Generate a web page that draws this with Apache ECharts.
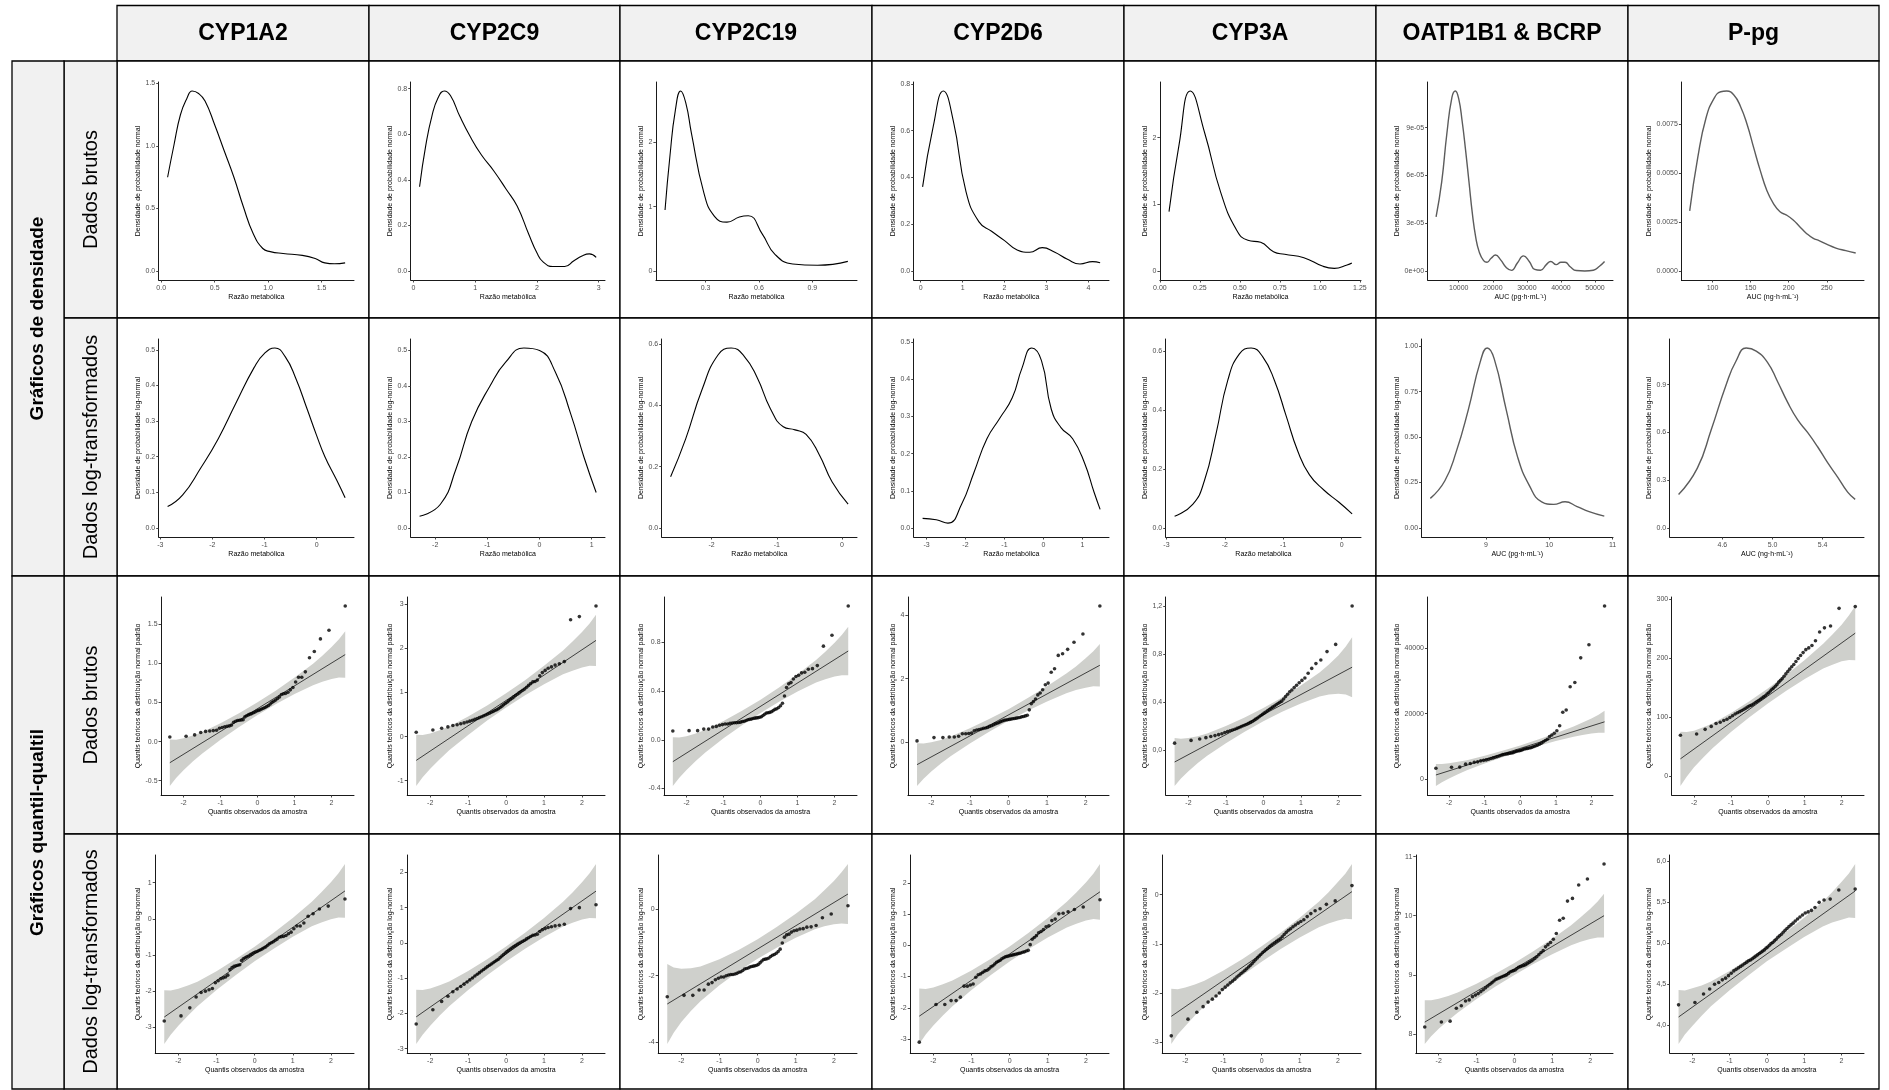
<!DOCTYPE html>
<html>
<head>
<meta charset="utf-8">
<script src="https://cdn.jsdelivr.net/npm/echarts@6/dist/echarts.min.js"></script>
<style>
  html, body { margin: 0; padding: 0; background: #ffffff; }
  #painel { width: 1889px; height: 1090px; }
</style>
</head>
<body>
<div id="painel"></div>
<script>
// ---------- textos ----------
const enzimas = ['CYP1A2', 'CYP2C9', 'CYP2C19', 'CYP2D6', 'CYP3A', 'OATP1B1 & BCRP', 'P-pg'];
const rotulosLinhas = ['Dados brutos', 'Dados log-transformados', 'Dados brutos', 'Dados log-transformados'];
const rotulosGrupos = ['Gráficos de densidade', 'Gráficos quantil-qualtil'];
const titulosY = ['Densidade de probabilidade normal', 'Densidade de probabilidade log-normal',
  'Quantis teóricos da distribuição normal padrão', 'Quantis teóricos da distribuição log-normal'];
const titulosX = ['Razão metabólica', 'Razão metabólica', 'Razão metabólica', 'Razão metabólica',
  'Razão metabólica', 'AUC (pg·h·mL⁻¹)', 'AUC (ng·h·mL⁻¹)'];
const tituloXQuantis = 'Quantis observados da amostra';

// ---------- quantis teóricos da normal (n = 56) ----------
const quantisNormais = [-2.369, -1.930, -1.699, -1.534, -1.403, -1.291, -1.195, -1.108, -1.029, -0.956,
  -0.887, -0.823, -0.761, -0.703, -0.647, -0.592, -0.540, -0.489, -0.439, -0.390, -0.342, -0.295,
  -0.248, -0.203, -0.157, -0.112, -0.067, -0.022, 0.022, 0.067, 0.112, 0.157, 0.203, 0.248, 0.295,
  0.342, 0.390, 0.439, 0.489, 0.540, 0.592, 0.647, 0.703, 0.761, 0.823, 0.887, 0.956, 1.029, 1.108,
  1.195, 1.291, 1.403, 1.534, 1.699, 1.930, 2.369];

// ---------- amostras ordenadas (escala original) ----------
const amostraCYP1A2 = [0.059, 0.068, 0.085, 0.115, 0.13, 0.135, 0.14, 0.145, 0.17, 0.18, 0.19, 0.195,
  0.2, 0.21, 0.245, 0.26, 0.268, 0.272, 0.276, 0.28, 0.315, 0.33, 0.34, 0.35, 0.357, 0.368, 0.378,
  0.39, 0.398, 0.405, 0.415, 0.425, 0.435, 0.448, 0.46, 0.48, 0.5, 0.515, 0.53, 0.55, 0.57, 0.6, 0.61,
  0.615, 0.63, 0.66, 0.69, 0.76, 0.82, 0.82, 0.89, 1.07, 1.15, 1.31, 1.42, 1.73];
const amostraCYP2C9 = [0.10, 0.15, 0.19, 0.22, 0.25, 0.27, 0.29, 0.31, 0.33, 0.35, 0.37, 0.39, 0.41,
  0.43, 0.45, 0.47, 0.49, 0.51, 0.53, 0.55, 0.57, 0.59, 0.61, 0.63, 0.66, 0.69, 0.72, 0.75, 0.78, 0.81,
  0.84, 0.87, 0.90, 0.93, 0.96, 0.99, 1.02, 1.05, 1.08, 1.12, 1.16, 1.20, 1.24, 1.25, 1.28, 1.38, 1.45,
  1.50, 1.55, 1.58, 1.62, 1.65, 1.70, 2.65, 2.72, 2.96];
const amostraCYP2C19 = [0.072, 0.075, 0.075, 0.088, 0.088, 0.105, 0.11, 0.12, 0.125, 0.13, 0.13, 0.135,
  0.138, 0.14, 0.14, 0.142, 0.145, 0.15, 0.152, 0.158, 0.165, 0.168, 0.17, 0.175, 0.178, 0.18, 0.182,
  0.185, 0.19, 0.2, 0.21, 0.22, 0.222, 0.225, 0.23, 0.24, 0.25, 0.255, 0.265, 0.28, 0.30, 0.36, 0.43,
  0.46, 0.47, 0.50, 0.52, 0.53, 0.55, 0.555, 0.58, 0.585, 0.61, 0.77, 0.86, 1.1];
const amostraCYP2D6 = [0.045, 0.15, 0.15, 0.17, 0.17, 0.19, 0.27, 0.27, 0.28, 0.29, 0.36, 0.39, 0.4,
  0.42, 0.44, 0.45, 0.47, 0.5, 0.52, 0.55, 0.58, 0.6, 0.62, 0.65, 0.67, 0.69, 0.7, 0.71, 0.72, 0.73,
  0.74, 0.75, 0.76, 0.77, 0.78, 0.8, 0.81, 0.83, 0.85, 1.02, 1.21, 1.28, 1.36, 1.49, 1.55, 1.65, 1.81,
  1.86, 2.2, 2.31, 2.73, 2.78, 2.92, 3.14, 3.4, 4.28];
const amostraCYP3A = [0.057, 0.08, 0.092, 0.103, 0.113, 0.12, 0.128, 0.136, 0.146, 0.153, 0.16, 0.167,
  0.173, 0.18, 0.188, 0.195, 0.202, 0.208, 0.215, 0.222, 0.23, 0.238, 0.247, 0.257, 0.267, 0.277,
  0.287, 0.297, 0.307, 0.317, 0.327, 0.337, 0.347, 0.357, 0.367, 0.377, 0.387, 0.397, 0.407, 0.425,
  0.445, 0.465, 0.485, 0.5, 0.52, 0.54, 0.56, 0.58, 0.6, 0.64, 0.68, 0.72, 0.75, 0.82, 0.88, 1.2];
const amostraOATP = [3350, 3650, 3700, 4600, 4800, 5200, 5300, 5600, 5750, 5900, 6100, 6300, 6500,
  6700, 6900, 7100, 7300, 7500, 7600, 7700, 7800, 7900, 8000, 8100, 8300, 8500, 8600, 8700, 8800,
  9000, 9200, 9300, 9400, 9500, 9600, 9800, 10000, 10200, 10400, 10700, 11000, 11400, 11800, 12200,
  13000, 13500, 14000, 14800, 16300, 20400, 21100, 28200, 29500, 37000, 41000, 52800];
const amostraPpg = [70, 72, 80, 85, 90, 92, 95, 97, 100, 103, 106, 108, 110, 112, 114, 116, 118, 120,
  121, 123, 125, 127, 129, 131, 133, 135, 137, 140, 142, 145, 148, 150, 153, 156, 160, 163, 166, 170,
  174, 178, 182, 186, 190, 195, 200, 205, 210, 215, 218, 222, 230, 245, 252, 255, 285, 288];

// ---------- curvas de densidade (escala original) ----------
const densBrutaCYP1A2 = [[0.06, 0.75], [0.12, 1.01], [0.18, 1.25], [0.24, 1.38], [0.29, 1.44], [0.35, 1.42],
  [0.41, 1.36], [0.5, 1.17], [0.59, 0.96], [0.68, 0.75], [0.77, 0.51], [0.86, 0.3], [0.95, 0.18],
  [1.02, 0.155], [1.14, 0.14], [1.32, 0.125], [1.44, 0.1], [1.53, 0.065], [1.62, 0.058], [1.72, 0.065]];
const densBrutaCYP2C9 = [[0.1, 0.37], [0.2, 0.55], [0.3, 0.68], [0.4, 0.76], [0.5, 0.79], [0.6, 0.77],
  [0.75, 0.68], [0.92, 0.59], [1.1, 0.51], [1.3, 0.44], [1.5, 0.36], [1.68, 0.285], [1.87, 0.16],
  [2.0, 0.08], [2.1, 0.04], [2.26, 0.02], [2.45, 0.02], [2.6, 0.045], [2.73, 0.066], [2.85, 0.075], [2.96, 0.06]];
const densBrutaCYP2C19 = [[0.072, 0.95], [0.1, 1.8], [0.13, 2.5], [0.16, 2.8], [0.19, 2.6], [0.22, 2.15],
  [0.29, 1.22], [0.35, 0.85], [0.42, 0.76], [0.49, 0.84], [0.54, 0.86], [0.62, 0.57], [0.69, 0.26],
  [0.79, 0.11], [0.93, 0.09], [1.1, 0.15]];
const densBrutaCYP2D6 = [[0.045, 0.36], [0.3, 0.62], [0.54, 0.77], [0.78, 0.64], [1.08, 0.34], [1.39, 0.21],
  [1.69, 0.17], [2.0, 0.13], [2.3, 0.09], [2.6, 0.08], [2.9, 0.1], [3.2, 0.08], [3.5, 0.05], [3.8, 0.03],
  [4.1, 0.04], [4.28, 0.035]];
const densBrutaCYP3A = [[0.057, 0.89], [0.12, 1.9], [0.19, 2.7], [0.28, 2.07], [0.38, 1.18], [0.48, 0.61],
  [0.55, 0.46], [0.63, 0.43], [0.71, 0.29], [0.78, 0.25], [0.9, 0.2], [1.02, 0.07], [1.09, 0.04],
  [1.17, 0.09], [1.2, 0.12]];
const densBrutaOATP = [[3350, 3.4e-5], [5000, 5.6e-5], [6500, 8.6e-5], [8000, 10.9e-5], [9000, 11.3e-5],
  [10000, 10.8e-5], [11000, 9.4e-5], [12000, 7.6e-5], [13000, 5.6e-5], [14000, 3.6e-5], [15000, 2.1e-5],
  [16000, 1.2e-5], [17300, 0.65e-5], [18300, 0.55e-5], [19500, 0.8e-5], [20800, 1.0e-5], [22300, 0.7e-5],
  [24000, 0.2e-5], [25500, 0.04e-5], [27200, 0.5e-5], [29000, 0.95e-5], [30700, 0.6e-5], [32300, 0.1e-5],
  [34000, 0.05e-5], [35700, 0.4e-5], [37000, 0.6e-5], [38600, 0.4e-5], [40000, 0.55e-5], [41200, 0.55e-5],
  [42800, 0.25e-5], [44500, 0.03e-5], [47000, 0.0], [49500, 0.05e-5], [51300, 0.3e-5], [52800, 0.6e-5]];
const densBrutaPpg = [[70, 0.00307], [80.6, 0.00579], [91.4, 0.0078], [102, 0.0088], [110.8, 0.00914],
  [118.6, 0.00918], [128, 0.00898], [136.7, 0.00839], [145.4, 0.00747], [154, 0.00629], [162.7, 0.00512],
  [171.3, 0.00411], [180, 0.00344], [188.6, 0.00302], [197.2, 0.00285], [205.9, 0.0026], [214.5, 0.00226],
  [223, 0.00193], [231.8, 0.00168], [240.5, 0.00154], [249, 0.00138], [262, 0.00117], [275, 0.00104],
  [288, 0.00092]];

// ---------- curvas de densidade (escala logarítmica) ----------
const densLogCYP1A2 = [[-2.86, 0.06], [-2.57, 0.093], [-2.23, 0.167], [-1.89, 0.25], [-1.55, 0.35],
  [-1.2, 0.45], [-1.0, 0.49], [-0.8, 0.505], [-0.6, 0.48], [-0.4, 0.42], [-0.18, 0.333], [0.0, 0.26],
  [0.16, 0.2], [0.39, 0.133], [0.548, 0.085]];
const densLogCYP2C9 = [[-2.3, 0.033], [-1.9, 0.067], [-1.6, 0.167], [-1.3, 0.3], [-0.95, 0.4],
  [-0.65, 0.467], [-0.3, 0.507], [0.0, 0.5], [0.3, 0.44], [0.6, 0.32], [0.85, 0.2], [1.085, 0.1]];
const densLogCYP2C19 = [[-2.63, 0.167], [-2.4, 0.29], [-2.15, 0.45], [-1.9, 0.565], [-1.7, 0.587],
  [-1.5, 0.56], [-1.3, 0.49], [-1.1, 0.39], [-0.9, 0.33], [-0.72, 0.32], [-0.55, 0.305], [-0.35, 0.24],
  [-0.15, 0.15], [0.095, 0.078]];
const densLogCYP2D6 = [[-3.1, 0.026], [-2.75, 0.022], [-2.45, 0.013], [-2.1, 0.064], [-1.78, 0.15],
  [-1.45, 0.24], [-1.12, 0.295], [-0.8, 0.35], [-0.55, 0.43], [-0.3, 0.484], [-0.05, 0.45], [0.2, 0.32],
  [0.45, 0.27], [0.75, 0.24], [1.05, 0.176], [1.3, 0.096], [1.455, 0.05]];
const densLogCYP3A = [[-2.86, 0.04], [-2.55, 0.08], [-2.35, 0.16], [-2.15, 0.32], [-1.95, 0.5], [-1.75, 0.59],
  [-1.55, 0.61], [-1.35, 0.58], [-1.15, 0.5], [-0.95, 0.38], [-0.75, 0.26], [-0.55, 0.18], [-0.3, 0.128],
  [-0.05, 0.088], [0.18, 0.048]];
const densLogOATP = [[8.12, 0.163], [8.35, 0.26], [8.53, 0.42], [8.72, 0.65], [8.91, 0.915], [9.02, 0.99],
  [9.13, 0.93], [9.32, 0.65], [9.5, 0.39], [9.69, 0.23], [9.88, 0.144], [10.07, 0.13], [10.25, 0.144],
  [10.44, 0.118], [10.63, 0.09], [10.87, 0.065]];
const densLogPpg = [[4.25, 0.21], [4.4, 0.376], [4.51, 0.615], [4.63, 0.9], [4.71, 1.05], [4.79, 1.13],
  [4.87, 1.11], [4.96, 1.04], [5.04, 0.92], [5.12, 0.79], [5.2, 0.68], [5.28, 0.6], [5.36, 0.51],
  [5.44, 0.41], [5.52, 0.32], [5.6, 0.225], [5.66, 0.18]];

// ---------- retas de referência (valor em x = -2.369 e x = 2.369) ----------
const retaBrutaCYP1A2 = [-0.27, 1.11];
const retaBrutaCYP2C9 = [-0.54, 2.18];
const retaBrutaCYP2C19 = [-0.18, 0.73];
const retaBrutaCYP2D6 = [-0.7, 2.42];
const retaBrutaCYP3A = [-0.1, 0.69];
const retaBrutaOATP = [1300, 17500];
const retaBrutaPpg = [30, 243];
const retaLogCYP1A2 = [-2.72, 0.77];
const retaLogCYP2C9 = [-2.1, 1.47];
const retaLogCYP2C19 = [-2.85, 0.45];
const retaLogCYP2D6 = [-2.27, 1.71];
const retaLogCYP3A = [-2.47, 0.06];
const retaLogOATP = [8.2, 10.0];
const retaLogPpg = [4.1, 5.64];

// ---------- faixas de confiança: meia-largura nos pontos de faixaX ----------
const faixaX = [-2.369, -2.2, -2, -1.75, -1.5, -1, -0.5, 0, 0.5, 1, 1.5, 1.75, 2, 2.2, 2.369];
const faixaBrutaCYP1A2 = [0.297, 0.244, 0.204, 0.166, 0.137, 0.105, 0.087, 0.081, 0.087, 0.105, 0.137, 0.166, 0.204, 0.244, 0.297];
const faixaBrutaCYP2C9 = [0.58, 0.48, 0.40, 0.33, 0.27, 0.21, 0.17, 0.16, 0.17, 0.21, 0.27, 0.33, 0.40, 0.48, 0.58];
const faixaBrutaCYP2C19 = [0.2, 0.166, 0.139, 0.113, 0.093, 0.071, 0.059, 0.055, 0.059, 0.071, 0.093, 0.113, 0.139, 0.166, 0.2];
const faixaBrutaCYP2D6 = [0.67, 0.55, 0.46, 0.37, 0.31, 0.24, 0.2, 0.18, 0.2, 0.24, 0.31, 0.37, 0.46, 0.55, 0.67];
const faixaBrutaCYP3A = [0.2, 0.165, 0.138, 0.112, 0.092, 0.071, 0.059, 0.055, 0.06, 0.075, 0.1, 0.125, 0.16, 0.2, 0.25];
const faixaBrutaOATP = [3360, 2760, 2300, 1880, 1550, 1180, 990, 920, 990, 1180, 1550, 1880, 2300, 2760, 3360];
const faixaBrutaPpg = [46, 38, 31, 25.6, 21, 16, 13.5, 12.6, 13.5, 16, 21, 25.6, 31, 38, 46];
const faixaLogCYP1A2 = [0.745, 0.613, 0.51, 0.416, 0.34, 0.26, 0.22, 0.2, 0.22, 0.26, 0.34, 0.416, 0.51, 0.613, 0.745];
const faixaLogCYP2C9 = [0.77, 0.634, 0.53, 0.43, 0.35, 0.27, 0.23, 0.21, 0.23, 0.27, 0.35, 0.43, 0.53, 0.634, 0.77];
const faixaLogCYP2C19 = [1.2, 0.98, 0.8, 0.64, 0.52, 0.39, 0.32, 0.29, 0.31, 0.36, 0.45, 0.54, 0.65, 0.77, 0.9];
const faixaLogCYP2D6 = [0.89, 0.73, 0.61, 0.5, 0.41, 0.31, 0.26, 0.24, 0.26, 0.31, 0.41, 0.5, 0.61, 0.73, 0.89];
const faixaLogCYP3A = [0.56, 0.46, 0.39, 0.315, 0.26, 0.2, 0.165, 0.155, 0.165, 0.2, 0.26, 0.315, 0.39, 0.46, 0.56];
const faixaLogOATP = [0.37, 0.305, 0.254, 0.207, 0.17, 0.13, 0.109, 0.102, 0.109, 0.13, 0.17, 0.207, 0.254, 0.305, 0.37];
const faixaLogPpg = [0.33, 0.27, 0.23, 0.185, 0.15, 0.117, 0.1, 0.09, 0.1, 0.117, 0.15, 0.185, 0.23, 0.27, 0.33];

// ---------- rótulos dos eixos ----------
const rotDensBrutaX = [['0.0', '0.5', '1.0', '1.5'], ['0', '1', '2', '3'], ['0.3', '0.6', '0.9'],
  ['0', '1', '2', '3', '4'], ['0.00', '0.25', '0.50', '0.75', '1.00', '1.25'],
  ['10000', '20000', '30000', '40000', '50000'], ['100', '150', '200', '250']];
const rotDensBrutaY = [['0.0', '0.5', '1.0', '1.5'], ['0.0', '0.2', '0.4', '0.6', '0.8'], ['0', '1', '2'],
  ['0.0', '0.2', '0.4', '0.6', '0.8'], ['0', '1', '2'], ['0e+00', '3e-05', '6e-05', '9e-05'],
  ['0.0000', '0.0025', '0.0050', '0.0075']];
const rotDensLogX = [['-3', '-2', '-1', '0'], ['-2', '-1', '0', '1'], ['-3', '-2', '-1', '0'],
  ['-3', '-2', '-1', '0', '1'], ['-3', '-2', '-1', '0'], ['9', '10', '11'], ['4.6', '5.0', '5.4']];
const rotDensLogY = [['0.0', '0.1', '0.2', '0.3', '0.4', '0.5'], ['0.0', '0.1', '0.2', '0.3', '0.4', '0.5'],
  ['0.0', '0.2', '0.4', '0.6'], ['0.0', '0.1', '0.2', '0.3', '0.4', '0.5'], ['0.0', '0.2', '0.4', '0.6'],
  ['0.00', '0.25', '0.50', '0.75', '1.00'], ['0.0', '0.3', '0.6', '0.9']];
const rotQQX = ['-2', '-1', '0', '1', '2'];
const rotQQBrutaY = [['-0.5', '0.0', '0.5', '1.0', '1.5'], ['-1', '0', '1', '2', '3'], ['-0.4', '0.0', '0.4', '0.8'],
  ['0', '2', '4'], ['0,0', '0,4', '0,8', '1,2'], ['0', '20000', '40000'], ['0', '100', '200', '300']];
const rotQQLogY = [['-3', '-2', '-1', '0', '1'], ['-3', '-2', '-1', '0', '1', '2'], ['-4', '-2', '0'],
  ['-3', '-2', '-1', '0', '1', '2'], ['-3', '-2', '-1', '0'], ['8', '9', '10', '11'],
  ['4,0', '4,5', '5,0', '5,5', '6,0']];

// ---------- agrupamento por coluna ----------
const amostras = [amostraCYP1A2, amostraCYP2C9, amostraCYP2C19, amostraCYP2D6, amostraCYP3A, amostraOATP, amostraPpg];
const densBrutas = [densBrutaCYP1A2, densBrutaCYP2C9, densBrutaCYP2C19, densBrutaCYP2D6, densBrutaCYP3A, densBrutaOATP, densBrutaPpg];
const densLogs = [densLogCYP1A2, densLogCYP2C9, densLogCYP2C19, densLogCYP2D6, densLogCYP3A, densLogOATP, densLogPpg];
const retasBrutas = [retaBrutaCYP1A2, retaBrutaCYP2C9, retaBrutaCYP2C19, retaBrutaCYP2D6, retaBrutaCYP3A, retaBrutaOATP, retaBrutaPpg];
const retasLog = [retaLogCYP1A2, retaLogCYP2C9, retaLogCYP2C19, retaLogCYP2D6, retaLogCYP3A, retaLogOATP, retaLogPpg];
const faixasBrutas = [faixaBrutaCYP1A2, faixaBrutaCYP2C9, faixaBrutaCYP2C19, faixaBrutaCYP2D6, faixaBrutaCYP3A, faixaBrutaOATP, faixaBrutaPpg];
const faixasLog = [faixaLogCYP1A2, faixaLogCYP2C9, faixaLogCYP2C19, faixaLogCYP2D6, faixaLogCYP3A, faixaLogOATP, faixaLogPpg];

// ---------- layout da tabela ----------
const colunasX = [117, 369, 620, 872, 1124, 1376, 1628, 1879];
const linhasY = [61, 318, 576, 834, 1089];
const topoCabecalho = 5.5;
const grupoX = [12, 64];
const FONTE = '"Liberation Sans", Arial, Helvetica, sans-serif';
const COR_FAIXA = '#cfd0cc';

const medidor = document.createElement('canvas').getContext('2d');
medidor.font = '7px ' + FONTE;
const larguraTexto = t => medidor.measureText(t).width;
const valorRotulo = r => parseFloat(r.replace(',', '.'));
const expandir = (a, b) => { const d = (b - a) * 0.05; return [a - d, b + d]; };

const grids = [], eixosX = [], eixosY = [], series = [];

function rotuloMaisProximo(valores, rotulos, v) {
  let melhor = 0, dist = Infinity;
  valores.forEach((u, i) => { const d = Math.abs(u - v); if (d < dist) { dist = d; melhor = i; } });
  return rotulos[melhor];
}

function eixo(k, ext, rotulos, nome, gap, margem) {
  const vals = [], labs = [];
  rotulos.forEach(r => { const v = valorRotulo(r); if (v >= ext[0] && v <= ext[1]) { vals.push(v); labs.push(r); } });
  return {
    type: 'value', gridIndex: k, min: ext[0], max: ext[1],
    axisLine: { show: true, onZero: false, lineStyle: { color: '#000', width: 0.9 } },
    axisTick: { show: true, length: 2.5, customValues: vals, lineStyle: { color: '#333', width: 0.9 } },
    axisLabel: {
      show: true, customValues: vals, fontSize: 7, fontFamily: FONTE, color: '#4d4d4d', margin: margem,
      formatter: v => rotuloMaisProximo(vals, labs, v)
    },
    splitLine: { show: false },
    name: nome, nameLocation: 'middle', nameGap: gap,
    nameTextStyle: { fontSize: 7, fontFamily: FONTE, color: '#000' }
  };
}

function novoPainel(lin, col, extX, extY, rotX, rotY, nomeX, nomeY) {
  const k = grids.length;
  const wMax = Math.max(...rotY.map(larguraTexto));
  const deslocEsq = 32 + wMax;
  const esq = colunasX[col] + deslocEsq;
  const dir = colunasX[col + 1] - 15;
  grids.push({ left: esq, top: linhasY[lin] + 21, width: dir - esq, height: 198 });
  eixosX.push(eixo(k, extX, rotX, nomeX, 14, 4.5));
  eixosY.push(eixo(k, extY, rotY, nomeY, deslocEsq - 25, 3.5));
  return k;
}

// ---------- painéis de densidade ----------
function painelDensidade(lin, col, curva, rotX, rotY, nomeX) {
  const xs = curva.map(p => p[0]), ys = curva.map(p => p[1]);
  const extX = expandir(Math.min(...xs), Math.max(...xs));
  const extY = expandir(0, Math.max(...ys));
  const k = novoPainel(lin, col, extX, extY, rotX, rotY, nomeX, titulosY[lin]);
  const cinza = col >= 5;
  series.push({
    type: 'line', xAxisIndex: k, yAxisIndex: k, data: curva, smooth: 0.5, showSymbol: false,
    lineStyle: { color: cinza ? '#5c5c5c' : '#000', width: cinza ? 1.4 : 1.1 }, silent: true, z: 3
  });
}

// ---------- painéis quantil-quantil ----------
function painelQQ(lin, col, valores, reta, meiaLargura, rotY) {
  const xIni = quantisNormais[0], xFim = quantisNormais[quantisNormais.length - 1];
  const retaEm = x => reta[0] + (reta[1] - reta[0]) * (x - xIni) / (xFim - xIni);
  const inf = faixaX.map((x, i) => retaEm(x) - meiaLargura[i]);
  const sup = faixaX.map((x, i) => retaEm(x) + meiaLargura[i]);
  const todos = valores.concat(inf, sup);
  const extY = expandir(Math.min(...todos), Math.max(...todos));
  const extX = expandir(xIni, xFim);
  const k = novoPainel(lin, col, extX, extY, rotQQX, rotY, tituloXQuantis, titulosY[lin]);
  // faixa de confiança: polígono entre o limite inferior e o superior
  series.push({
    type: 'custom', xAxisIndex: k, yAxisIndex: k, silent: true, z: 1,
    data: [[faixaX[0], inf[0]]],
    renderItem: (params, api) => {
      const pts = [];
      faixaX.forEach((x, i) => pts.push(api.coord([x, inf[i]])));
      for (let i = faixaX.length - 1; i >= 0; i--) pts.push(api.coord([faixaX[i], sup[i]]));
      return { type: 'polygon', shape: { points: pts }, style: { fill: COR_FAIXA, stroke: null } };
    }
  });
  series.push({
    type: 'line', xAxisIndex: k, yAxisIndex: k, data: [[xIni, reta[0]], [xFim, reta[1]]],
    showSymbol: false, lineStyle: { color: '#000', width: 0.7 }, silent: true, z: 2
  });
  series.push({
    type: 'scatter', xAxisIndex: k, yAxisIndex: k, symbolSize: 3.6,
    data: valores.map((v, i) => [quantisNormais[i], v]),
    itemStyle: { color: '#000' }, silent: true, z: 3
  });
}

for (let c = 0; c < enzimas.length; c++) {
  painelDensidade(0, c, densBrutas[c], rotDensBrutaX[c], rotDensBrutaY[c], titulosX[c]);
  painelDensidade(1, c, densLogs[c], rotDensLogX[c], rotDensLogY[c], titulosX[c]);
  painelQQ(2, c, amostras[c], retasBrutas[c], faixasBrutas[c], rotQQBrutaY[c]);
  painelQQ(3, c, amostras[c].map(Math.log), retasLog[c], faixasLog[c], rotQQLogY[c]);
}

// ---------- moldura da tabela ----------
const traco = { stroke: '#000', lineWidth: 1.3 };
const elementos = [];
for (let c = 0; c < enzimas.length; c++) {
  const x0 = colunasX[c], x1 = colunasX[c + 1];
  elementos.push({ type: 'rect', z: -5, shape: { x: x0, y: topoCabecalho, width: x1 - x0, height: linhasY[0] - topoCabecalho },
    style: Object.assign({ fill: '#f1f1f1' }, traco) });
  elementos.push({ type: 'text', z: -4, x: (x0 + x1) / 2, y: (topoCabecalho + linhasY[0]) / 2 + 0.5,
    style: { text: enzimas[c], font: 'bold 23px ' + FONTE, fill: '#000', align: 'center', verticalAlign: 'middle' } });
  for (let r = 0; r < 4; r++) {
    elementos.push({ type: 'rect', z: -5, shape: { x: x0, y: linhasY[r], width: x1 - x0, height: linhasY[r + 1] - linhasY[r] },
      style: Object.assign({ fill: '#ffffff' }, traco) });
  }
}
for (let r = 0; r < 4; r++) {
  const y0 = linhasY[r], y1 = linhasY[r + 1];
  elementos.push({ type: 'rect', z: -5, shape: { x: grupoX[1], y: y0, width: colunasX[0] - grupoX[1], height: y1 - y0 },
    style: Object.assign({ fill: '#f1f1f1' }, traco) });
  elementos.push({ type: 'text', z: -4, x: (grupoX[1] + colunasX[0]) / 2 + 0.5, y: (y0 + y1) / 2, rotation: Math.PI / 2,
    style: { text: rotulosLinhas[r], font: '20px ' + FONTE, fill: '#000', align: 'center', verticalAlign: 'middle' } });
}
for (let g = 0; g < 2; g++) {
  const y0 = linhasY[g * 2], y1 = linhasY[g * 2 + 2];
  elementos.push({ type: 'rect', z: -5, shape: { x: grupoX[0], y: y0, width: grupoX[1] - grupoX[0], height: y1 - y0 },
    style: Object.assign({ fill: '#f1f1f1' }, traco) });
  elementos.push({ type: 'text', z: -4, x: (grupoX[0] + grupoX[1]) / 2, y: (y0 + y1) / 2, rotation: Math.PI / 2,
    style: { text: rotulosGrupos[g], font: 'bold 19px ' + FONTE, fill: '#000', align: 'center', verticalAlign: 'middle' } });
}

const grafico = echarts.init(document.getElementById('painel'), null, { renderer: 'canvas', width: 1889, height: 1090 });
grafico.setOption({
  animation: false,
  backgroundColor: '#ffffff',
  graphic: { elements: elementos },
  grid: grids,
  xAxis: eixosX,
  yAxis: eixosY,
  series: series
});
</script>
</body>
</html>
